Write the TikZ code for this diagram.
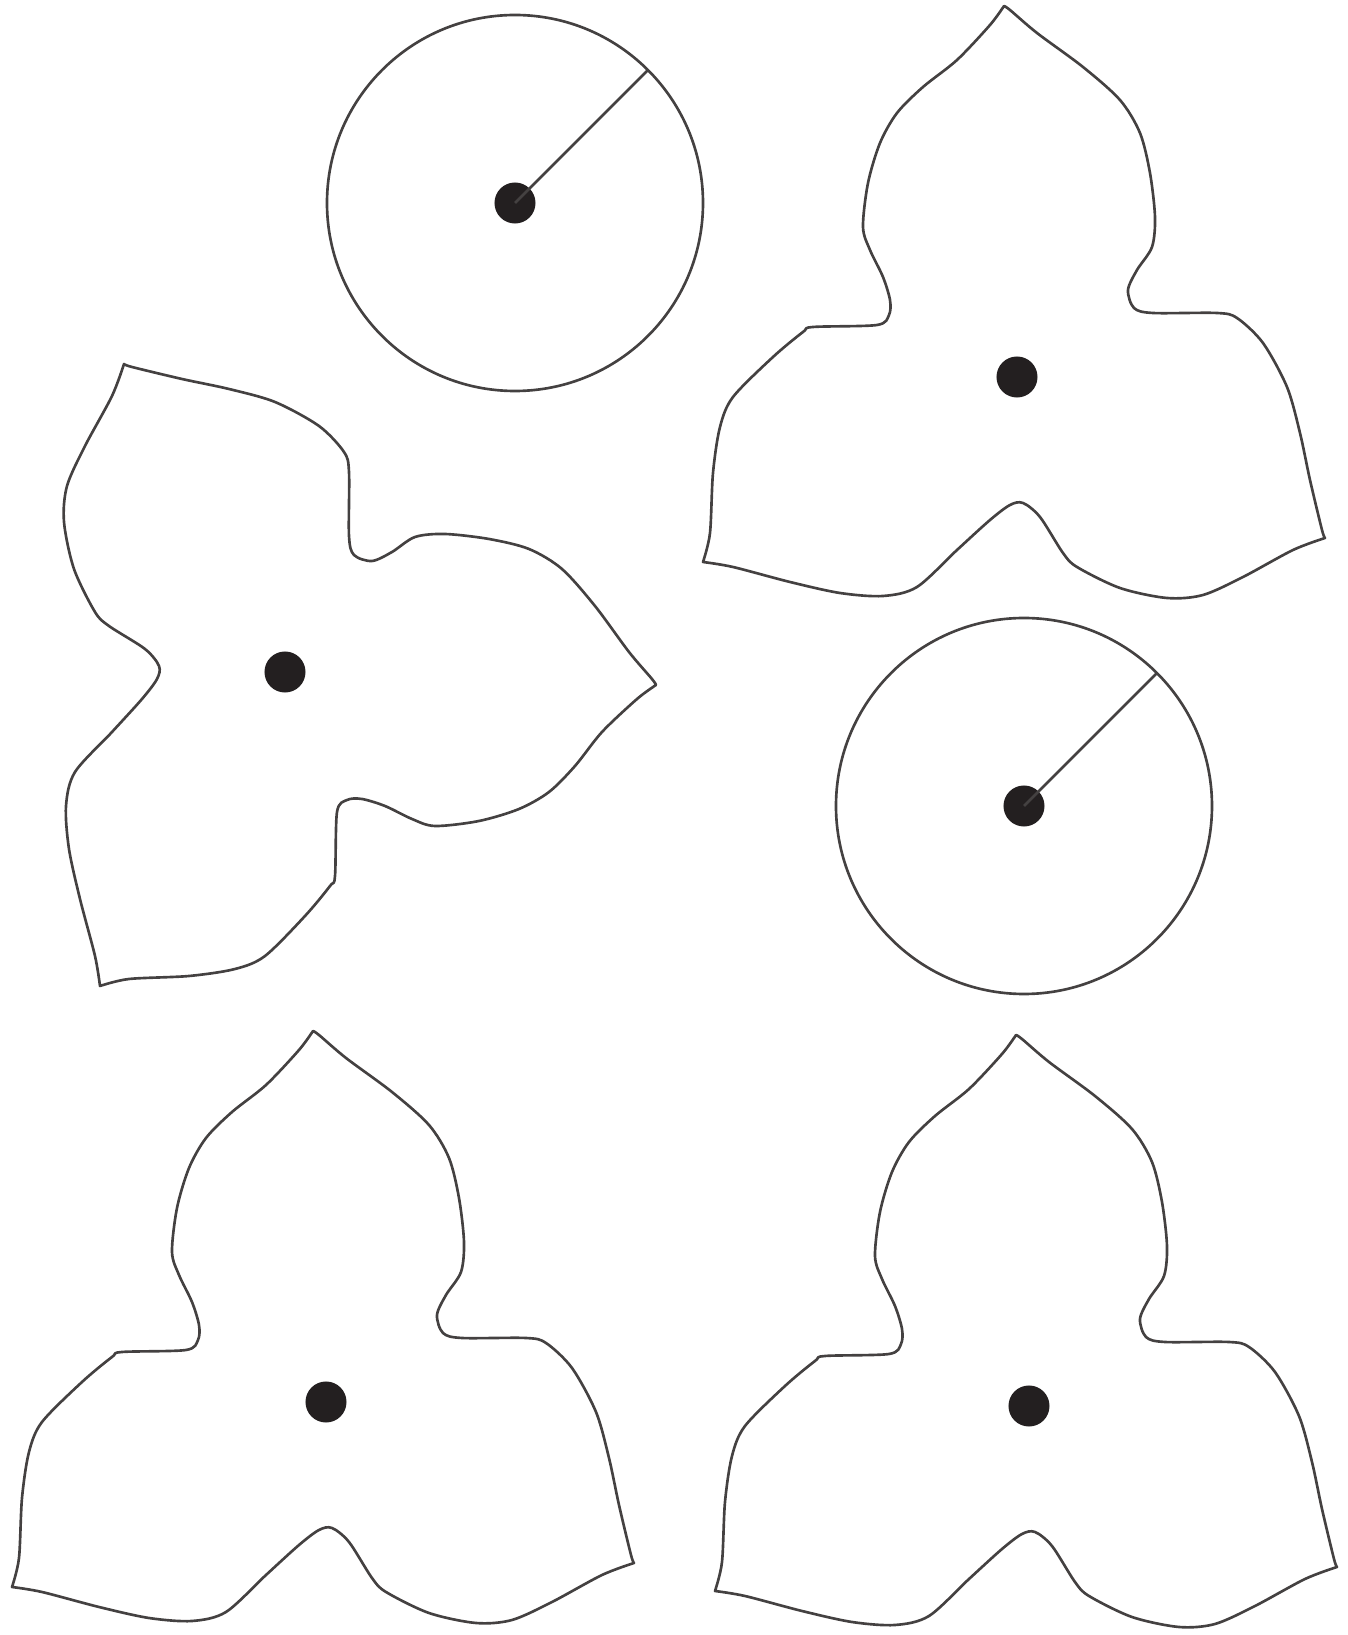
\documentclass[tikz,border=0pt]{standalone}
\definecolor{ink}{HTML}{231F20}
\tikzset{
  outline/.style={draw=ink!85, line width=0.75pt, line join=round},
  hub/.style={circle, fill=ink, inner sep=0pt, minimum size=0.41cm},
}
% three-lobed leaf, centred at the origin, one tip pointing up
\newcommand{\trefoil}[1]{%
  \begin{scope}[#1]
    \draw[outline] plot[smooth] coordinates {(-13,371) (-27,352) (-60,317) (-94,290) (-120,264)
        (-137,234) (-149,194) (-154,150) (-147,127) (-134,100) (-127,77) (-128,62) (-140,52)
        (-204,50) (-214,45) (-244,20) (-284,-20) (-297,-50) (-304,-96) (-307,-156) (-314,-185)}
      -- plot[smooth] coordinates {(-314,-185) (-284,-190) (-227,-205) (-177,-216) (-134,-219)
        (-100,-210) (-60,-173) (-27,-143) (-7,-128) (6,-126) (23,-140) (46,-176) (60,-190)
        (103,-211) (150,-221) (186,-218) (226,-200) (276,-173) (308,-161)}
      -- plot[smooth] coordinates {(308,-161) (305,-153) (293,-103) (283,-56) (270,-10)
        (246,34) (220,59) (200,64) (136,64) (117,69) (111,87) (120,107) (135,130) (138,160)
        (133,204) (123,244) (103,277) (66,310) (20,344) (-7,367) (-13,371)}
      -- cycle;
  \end{scope}}

\begin{document}
\begin{tikzpicture}[x=0.01cm, y=0.01cm]
  \useasboundingbox (0,0) rectangle (1347,1635);

  % discs with a radius
  \node[hub] (c1) at (515,1432) {};
  \draw[outline] (c1.center) circle[radius=188];
  \coordinate (r1) at ([shift={(45:188)}]c1.center);
  \draw[outline] (c1.center) -- (r1);

  \node[hub] (c2) at (1024,829) {};
  \draw[outline] (c2.center) circle[radius=188];
  \coordinate (r2) at ([shift={(45:188)}]c2.center);
  \draw[outline] (c2.center) -- (r2);

  % leaves
  \node[hub] (l1) at (1017,1258) {};
  \trefoil{shift={(l1.center)}}

  \node[hub] (l2) at (285,963) {};
  \trefoil{shift={(l2.center)}, cm={0,1,1,0,(0,0)}}

  \node[hub] (l3) at (326,233) {};
  \trefoil{shift={(l3.center)}}

  \node[hub] (l4) at (1029,229) {};
  \trefoil{shift={(l4.center)}}
\end{tikzpicture}
\end{document}
